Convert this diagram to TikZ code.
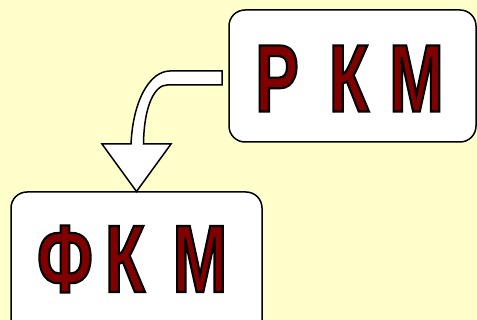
\documentclass[tikz,border=0pt]{standalone}
\usepackage{fontspec}
\newfontfamily\bigfont[FakeStretch=0.68,FakeBold=2.2]{Liberation Sans Bold}
\definecolor{bgyellow}{HTML}{FFFFCC}
\definecolor{dred}{HTML}{800000}
\newcommand{\ltr}[1]{\makebox[0pt][c]{#1}}
\newcommand{\bigtext}[5]{{\bigfont\fontsize{96}{96}\selectfont\special{pdf:bcolor [0.5 0 0] [0 0 0]}\ltr{#1}\hspace{#4}\ltr{#2}\hspace{#5}\ltr{#3}\special{pdf:ecolor}}}
\begin{document}
\begin{tikzpicture}[x=1pt,y=-1pt,
  box/.style={draw=black,fill=white,line width=1.5pt,rounded corners=16pt,inner sep=0pt},
  label/.style={inner sep=0pt,anchor=base},
  blockarrow/.style={draw=black,fill=white,line width=1.5pt,line join=miter}]
\fill[bgyellow] (0,0) rectangle (477,320);
\useasboundingbox (0,0) rectangle (477,320);
\node[box,minimum width=247pt,minimum height=132pt] (rkm) at (352.5,76) {};
\node[box,minimum width=251pt,minimum height=145pt] (fkm) at (136.5,264.5) {};
\node[label] (rkmt) at (346.75,111.5) {\bigtext{Р}{К}{М}{72pt}{67.5pt}};
\node[label] (fkmt) at (132.5,292) {\bigtext{Ф}{К}{М}{60pt}{75pt}};
\draw[blockarrow] (222,71) -- (170,71)
  .. controls (150,71) and (133,100) .. (131,144)
  -- (102,144) -- (136.5,191.5) -- (171,144) -- (143.5,144)
  .. controls (144,105) and (155,85) .. (167,85)
  -- (222,85) -- cycle;
\end{tikzpicture}
\end{document}
